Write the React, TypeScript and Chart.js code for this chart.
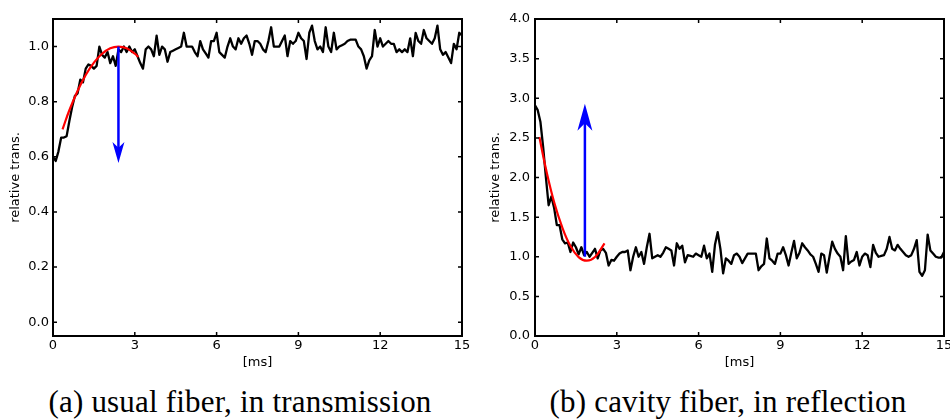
import React, { useEffect, useRef } from "react";
import { Chart, registerables } from "chart.js";

Chart.register(...registerables);

// ---------- data ----------
const TIME_STEP_MS = 0.1;
const xTickValues = [0, 3, 6, 9, 12, 15];
const transYTicks = [0, 0.2, 0.4, 0.6, 0.8, 1.0];
const reflYTicks = [0, 0.5, 1.0, 1.5, 2.0, 2.5, 3.0, 3.5, 4.0];

// (a) usual fiber, in transmission — relative transmission, one sample every 0.1 ms
const transValues = [
  0.60, 0.585, 0.62, 0.67, 0.67, 0.675, 0.73, 0.78, 0.82, 0.83,
  0.88, 0.87, 0.92, 0.935, 0.93, 0.92, 0.93, 1.00, 0.97, 0.96,
  0.98, 0.94, 0.965, 0.93, 0.99, 0.98, 1.00, 0.98, 1.00, 0.98,
  0.99, 0.965, 0.94, 0.92, 0.99, 1.00, 0.99, 0.965, 1.04, 0.97,
  1.00, 0.99, 0.945, 0.98, 0.985, 0.99, 0.995, 1.00, 1.05, 1.00,
  1.00, 1.00, 0.98, 0.965, 1.02, 0.99, 0.975, 0.96, 1.02, 1.02,
  1.05, 0.98, 0.97, 0.96, 1.00, 1.03, 1.00, 0.99, 1.03, 1.01,
  1.03, 1.04, 1.01, 0.97, 1.02, 1.02, 1.01, 0.99, 0.98, 1.02,
  1.07, 1.00, 1.00, 1.00, 1.02, 1.04, 0.965, 1.02, 1.01, 1.02,
  1.05, 1.03, 1.02, 0.955, 1.05, 1.076, 1.02, 0.99, 1.00, 0.98,
  1.07, 1.00, 0.98, 1.05, 0.99, 1.00, 1.005, 1.01, 1.02, 1.025,
  1.025, 1.025, 1.00, 0.99, 0.965, 0.92, 0.95, 0.965, 1.06, 1.00,
  1.03, 1.00, 1.01, 1.02, 1.01, 1.01, 0.98, 0.99, 0.98, 0.99,
  0.98, 1.03, 0.965, 1.05, 1.02, 1.01, 1.06, 1.03, 1.02, 1.01,
  1.03, 1.076, 0.99, 0.97, 0.98, 0.96, 0.94, 1.01, 0.99, 1.05,
  1.04,
];

// (b) cavity fiber, in reflection — one sample every 0.1 ms
const reflValues = [
  2.91, 2.85, 2.70, 2.38, 2.00, 1.65, 1.76, 1.62, 1.40, 1.40,
  1.22, 1.17, 1.18, 1.06, 1.18, 1.12, 1.03, 1.12, 1.02, 1.06,
  1.00, 1.05, 1.10, 0.98, 1.08, 1.10, 1.05, 0.89, 0.96, 0.95,
  1.00, 1.04, 1.06, 1.06, 1.08, 0.83, 1.00, 1.12, 1.00, 1.06,
  0.91, 1.12, 1.29, 0.98, 1.00, 1.02, 1.00, 1.05, 1.12, 1.10,
  1.08, 0.89, 1.17, 1.10, 1.14, 0.93, 1.02, 1.01, 1.00, 1.04,
  1.02, 1.00, 1.14, 0.98, 1.04, 0.81, 1.15, 1.31, 1.10, 0.79,
  0.98, 0.95, 0.91, 1.02, 1.04, 1.00, 0.92, 0.98, 1.04, 1.04,
  1.04, 1.04, 0.83, 0.88, 0.91, 1.23, 0.98, 0.95, 0.91, 1.04,
  1.04, 1.12, 1.02, 0.89, 1.05, 1.20, 0.98, 1.05, 1.17, 1.12,
  1.08, 1.03, 1.00, 0.91, 0.81, 1.04, 1.02, 0.80, 1.00, 1.19,
  1.10, 1.04, 1.00, 0.83, 1.26, 0.91, 0.94, 0.96, 1.06, 0.89,
  1.00, 1.04, 1.02, 0.87, 1.15, 1.05, 1.00, 1.01, 1.02, 1.10,
  1.25, 1.10, 1.08, 1.15, 1.10, 1.06, 1.02, 1.00, 1.02, 1.10,
  1.21, 0.81, 0.76, 0.83, 1.28, 1.08, 1.04, 1.00, 0.99, 0.99,
  1.06,
];

// red fitted curves
const transFitX = [0.35, 0.6, 0.9, 1.2, 1.5, 1.8, 2.1, 2.4, 2.7, 3.0, 3.13];
const transFitY = [0.70, 0.769, 0.839, 0.897, 0.942, 0.974, 0.994, 1.0, 0.994, 0.974, 0.962];
const reflFitX = [0.16, 0.4, 0.7, 1.0, 1.3, 1.6, 1.9, 2.2, 2.55];
const reflFitY = [2.51, 2.11, 1.69, 1.37, 1.135, 0.996, 0.95, 0.996, 1.17];

// blue arrows: [x, x], [start, tip]
const transArrowX = [2.4, 2.4];
const transArrowY = [1.0, 0.578];
const reflArrowX = [1.83, 1.83];
const reflArrowY = [1.0, 2.93];

const captionA = "(a) usual fiber, in transmission";
const captionB = "(b) cavity fiber, in reflection";

// ---------- helpers ----------
const FONT = "'DejaVu Sans', sans-serif";

function framePlugin(yTicks: number[]) {
  return {
    id: "frameTicks",
    afterDraw(chart: any) {
      const { ctx, chartArea: a, scales } = chart;
      ctx.save();
      ctx.strokeStyle = "#000";
      ctx.lineWidth = 1.5;
      const tl = 4;
      ctx.beginPath();
      for (const v of xTickValues) {
        const px = scales.x.getPixelForValue(v);
        ctx.moveTo(px, a.bottom);
        ctx.lineTo(px, a.bottom - tl);
        ctx.moveTo(px, a.top);
        ctx.lineTo(px, a.top + tl);
      }
      for (const v of yTicks) {
        const py = scales.y.getPixelForValue(v);
        ctx.moveTo(a.left, py);
        ctx.lineTo(a.left + tl, py);
        ctx.moveTo(a.right, py);
        ctx.lineTo(a.right - tl, py);
      }
      ctx.stroke();
      ctx.lineWidth = 2;
      ctx.strokeRect(a.left, a.top, a.right - a.left, a.bottom - a.top);
      ctx.restore();
    },
  };
}

function arrowPlugin(ax: number[], ay: number[], headLen: number, headW: number) {
  return {
    id: "blueArrow",
    afterDatasetsDraw(chart: any) {
      const { ctx, scales } = chart;
      const x = scales.x.getPixelForValue(ax[0]);
      const y0 = scales.y.getPixelForValue(ay[0]);
      const y1 = scales.y.getPixelForValue(ay[1]);
      const dir = Math.sign(y1 - y0);
      ctx.save();
      ctx.strokeStyle = "#0000ff";
      ctx.fillStyle = "#0000ff";
      ctx.lineWidth = 2.5;
      ctx.beginPath();
      ctx.moveTo(x, y0);
      ctx.lineTo(x, y1 - dir * headLen * 0.7);
      ctx.stroke();
      ctx.beginPath();
      ctx.moveTo(x, y1);
      ctx.lineTo(x - headW / 2, y1 - dir * headLen);
      ctx.lineTo(x, y1 - dir * headLen * 0.72);
      ctx.lineTo(x + headW / 2, y1 - dir * headLen);
      ctx.closePath();
      ctx.fill();
      ctx.restore();
    },
  };
}

type PanelProps = {
  values: number[];
  fitX: number[];
  fitY: number[];
  arrowX: number[];
  arrowY: number[];
  yMin: number;
  yMax: number;
  yTicks: number[];
  yAxisWidth: number;
  yTitlePad: number;
  yTickPad: number;
  padRight: number;
  headLen: number;
  headW: number;
  left: number;
};

const CANVAS_W = 475;
const CANVAS_H = 375;

function Panel(p: PanelProps) {
  const ref = useRef<HTMLCanvasElement>(null);
  useEffect(() => {
    if (!ref.current) return;
    const dataPts = p.values.map((v, i) => ({ x: +(i * TIME_STEP_MS).toFixed(2), y: v }));
    const fitPts = p.fitX.map((x, i) => ({ x, y: p.fitY[i] }));
    const chart = new Chart(ref.current, {
      type: "line",
      data: {
        datasets: [
          {
            data: fitPts,
            borderColor: "#ff0000",
            borderWidth: 2.2,
            pointRadius: 0,
            tension: 0.4,
            order: 0,
          },
          {
            data: dataPts,
            borderColor: "#000000",
            borderWidth: 2.3,
            pointRadius: 0,
            tension: 0,
            borderJoinStyle: "round",
            order: 1,
          },
        ],
      },
      options: {
        animation: false,
        responsive: false,
        maintainAspectRatio: false,
        events: [],
        layout: { padding: { top: 19, right: p.padRight, left: 0, bottom: 0 } },
        plugins: { legend: { display: false }, tooltip: { enabled: false } },
        scales: {
          x: {
            type: "linear",
            min: 0,
            max: 15,
            grid: { display: false, drawTicks: false },
            border: { display: false },
            afterBuildTicks: (s: any) => {
              s.ticks = xTickValues.map((v) => ({ value: v }));
            },
            ticks: {
              color: "#000",
              font: { family: FONT, size: 13 },
              padding: 2,
              maxRotation: 0,
              autoSkip: false,
              callback: (v: any) => String(v),
            },
            title: {
              display: true,
              text: "[ms]",
              color: "#000",
              font: { family: FONT, size: 13 },
              padding: { top: 0, bottom: 5 },
            },
            afterFit: (s: any) => {
              s.height = CANVAS_H - 336;
              s.paddingLeft = 0;
              s.paddingRight = 0;
            },
          },
          y: {
            type: "linear",
            min: p.yMin,
            max: p.yMax,
            grid: { display: false, drawTicks: false },
            border: { display: false },
            afterBuildTicks: (s: any) => {
              s.ticks = p.yTicks.map((v) => ({ value: v }));
            },
            ticks: {
              color: "#000",
              font: { family: FONT, size: 13 },
              padding: p.yTickPad,
              autoSkip: false,
              callback: (v: any) => Number(v).toFixed(1),
            },
            title: {
              display: true,
              text: "relative trans.",
              color: "#000",
              font: { family: FONT, size: 13 },
              padding: { top: p.yTitlePad, bottom: 0 },
            },
            afterFit: (s: any) => {
              s.width = p.yAxisWidth;
              s.paddingTop = 0;
              s.paddingBottom = 0;
            },
          },
        },
      },
      plugins: [framePlugin(p.yTicks), arrowPlugin(p.arrowX, p.arrowY, p.headLen, p.headW)],
    } as any);
    return () => chart.destroy();
  }, []);
  return (
    <canvas
      ref={ref}
      width={CANVAS_W}
      height={CANVAS_H}
      style={{ position: "absolute", left: p.left, top: 0, width: CANVAS_W, height: CANVAS_H }}
    />
  );
}

const captionStyle: React.CSSProperties = {
  position: "absolute",
  top: 386,
  fontFamily: "'Liberation Serif', 'Times New Roman', serif",
  fontSize: 31,
  lineHeight: "31px",
  letterSpacing: 0.2,
  whiteSpace: "nowrap",
  textAlign: "center",
  color: "#000",
};

export default function App() {
  return (
    <div
      style={{
        position: "fixed",
        left: 0,
        top: 0,
        width: 950,
        height: 420,
        background: "#fff",
        overflow: "hidden",
      }}
    >
      <Panel
        values={transValues}
        fitX={transFitX}
        fitY={transFitY}
        arrowX={transArrowX}
        arrowY={transArrowY}
        yMin={-0.05}
        yMax={1.1}
        yTicks={transYTicks}
        yAxisWidth={53}
        yTitlePad={8}
        yTickPad={4}
        padRight={13}
        headLen={21}
        headW={12}
        left={0}
      />
      <Panel
        values={reflValues}
        fitX={reflFitX}
        fitY={reflFitY}
        arrowX={reflArrowX}
        arrowY={reflArrowY}
        yMin={0}
        yMax={4}
        yTicks={reflYTicks}
        yAxisWidth={60}
        yTitlePad={13}
        yTickPad={5}
        padRight={6}
        headLen={27}
        headW={15}
        left={475}
      />
      <div style={{ ...captionStyle, left: 40, width: 400 }}>{captionA}</div>
      <div style={{ ...captionStyle, left: 528, width: 400 }}>{captionB}</div>
    </div>
  );
}
